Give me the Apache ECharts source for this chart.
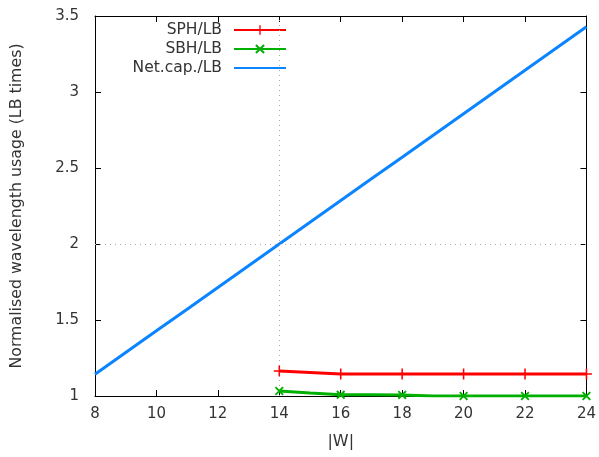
<!DOCTYPE html>
<html><head><meta charset="utf-8">
<script src="https://cdn.jsdelivr.net/npm/echarts@6/dist/echarts.min.js"></script>
<style>html,body{margin:0;padding:0;background:#fff}#c{width:599px;height:457px}</style>
</head><body><div id="c"></div>
<script>
const netW = [8,9,10,11,12,13,14,15,16,17,18,19,20,21,22,23,24];
const netCap = [1.143,1.286,1.429,1.571,1.714,1.857,2.0,2.143,2.286,2.429,2.571,2.714,2.857,3.0,3.143,3.286,3.429];
const hW = [14,15,16,17,18,19,20,21,22,23,24];
const sph = [1.165,1.155,1.145,1.145,1.145,1.145,1.145,1.145,1.145,1.145,1.145];
const sbh = [1.033,1.02,1.008,1.008,1.007,1.0,1.0,1.0,1.0,1.0,1.0];
const xTicks = [8,10,12,14,16,18,20,22,24];
const yTicks = [1,1.5,2,2.5,3,3.5];

const FONT = 'DejaVu Sans';
const txt = '#333';
const plus = 'path://M-1,-0.14 L1,-0.14 L1,0.14 L-1,0.14 Z M-0.14,-1 L0.14,-1 L0.14,1 L-0.14,1 Z';
const cross = 'path://M-1,-0.7 L-0.7,-1 L1,0.7 L0.7,1 Z M0.7,-1 L1,-0.7 L-0.7,1 L-1,0.7 Z';
const pairs = (xs, ys) => xs.map((x, i) => [x, ys[i]]);
const evenOnly = (sz) => (v) => (v[0] % 2 === 0 ? sz : 0);

const chart = echarts.init(document.getElementById('c'));
const axCommon = {
  axisLine: {show: true, lineStyle: {color: '#000', width: 1}},
  axisTick: {show: true, inside: true, length: 6, lineStyle: {color: '#000'}},
  splitLine: {show: false}
};
chart.setOption({
  animation: false,
  textStyle: {fontFamily: FONT},
  grid: {left: 95, right: 11, top: 16, bottom: 61},
  legend: {
    right: 307, top: 17, orient: 'vertical', align: 'right',
    itemWidth: 52, itemHeight: 12, itemGap: 3,
    textStyle: {fontFamily: FONT, fontSize: 15.5, color: txt, padding: [0, 7, 0, 0]},
    data: ['SPH/LB', 'SBH/LB', {name: 'Net.cap./LB', itemStyle: {opacity: 0}}]
  },
  xAxis: [
    Object.assign({type: 'value', min: 8, max: 24, interval: 2, position: 'bottom',
      name: '|W|', nameLocation: 'middle', nameGap: 38,
      nameTextStyle: {fontFamily: FONT, fontSize: 16, color: txt},
      axisLabel: {fontFamily: FONT, fontSize: 15, color: txt, margin: 11}}, axCommon),
    Object.assign({type: 'value', min: 8, max: 24, interval: 2, position: 'top',
      axisLabel: {show: false}}, axCommon)
  ],
  yAxis: [
    Object.assign({type: 'value', min: 1, max: 3.5, interval: 0.5, position: 'left',
      name: 'Normalised wavelength usage (LB times)', nameLocation: 'middle', nameGap: 70,
      nameTextStyle: {fontFamily: FONT, fontSize: 15.8, color: txt},
      axisLabel: {fontFamily: FONT, fontSize: 15, color: txt, margin: 16}}, axCommon),
    Object.assign({type: 'value', min: 1, max: 3.5, interval: 0.5, position: 'right',
      axisLabel: {show: false}}, axCommon)
  ],
  series: [
    {name: 'SPH/LB', type: 'line', data: pairs(hW, sph), color: '#ff0000',
      lineStyle: {width: 3}, symbol: plus, symbolSize: evenOnly(11), showAllSymbol: true,
      itemStyle: {color: '#ff0000'}, z: 5,
      markLine: {silent: true, symbol: 'none', label: {show: false},
        lineStyle: {type: [1, 4], color: '#aaa', width: 1},
        data: [{xAxis: 14}, {yAxis: 2}]}},
    {name: 'SBH/LB', type: 'line', data: pairs(hW, sbh), color: '#00b000',
      lineStyle: {width: 3}, symbol: cross, symbolSize: evenOnly(9), showAllSymbol: true,
      itemStyle: {color: '#00b000'}, z: 5},
    {name: 'Net.cap./LB', type: 'line', data: pairs(netW, netCap), color: '#0a84ff',
      lineStyle: {width: 3}, symbol: 'none', showSymbol: false, itemStyle: {color: '#0a84ff'}, z: 4}
  ]
});
</script></body></html>
